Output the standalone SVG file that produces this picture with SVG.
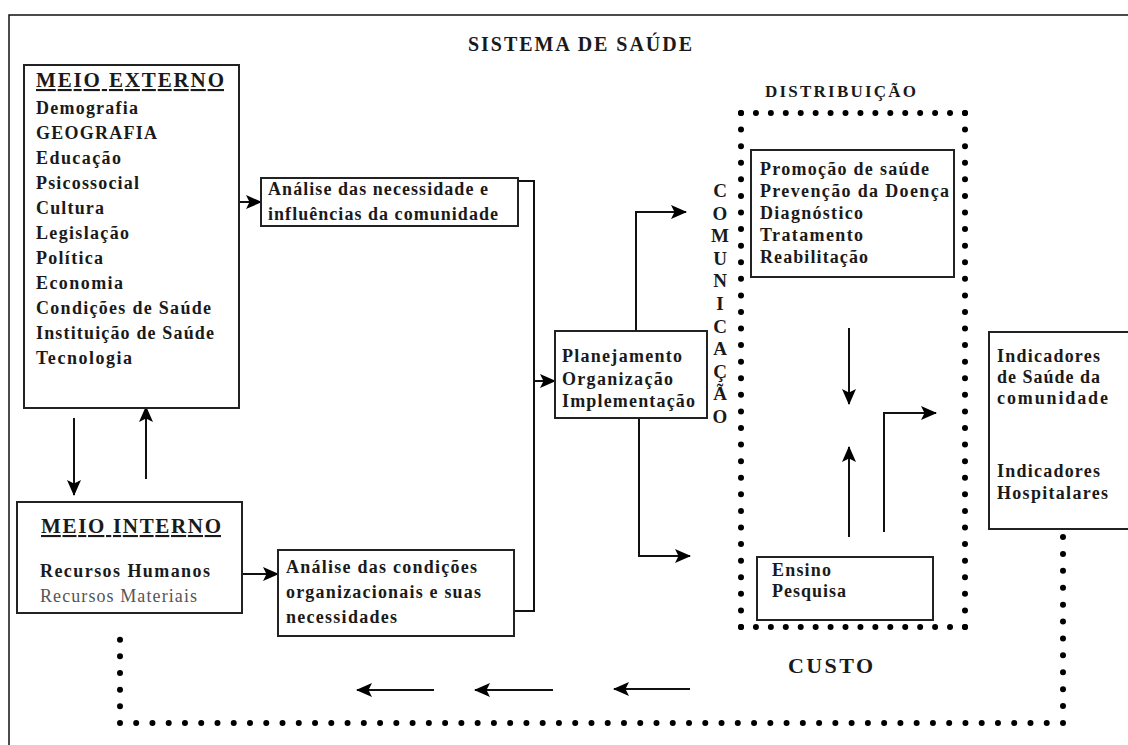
<svg xmlns="http://www.w3.org/2000/svg" width="1128" height="745" viewBox="0 0 1128 745">
<defs>
<marker id="ah" markerUnits="userSpaceOnUse" markerWidth="16" markerHeight="16" viewBox="0 0 16 16" refX="15" refY="8" orient="auto">
<path d="M0,1 L16,8 L0,15 L3.5,8 z" fill="#000"/>
</marker>
</defs>
<style>
.frame{fill:none;stroke:#111;stroke-width:1.5}
.box{fill:#fff;stroke:#222;stroke-width:2}
.con{fill:none;stroke:#111;stroke-width:2}
.arr{fill:none;stroke:#111;stroke-width:2;marker-end:url(#ah)}
.dot{fill:none;stroke:#000;stroke-width:6;stroke-linecap:round}
text{font-family:"Liberation Serif","Times New Roman",serif;font-weight:bold;fill:#1a1a1a;font-size:18px}
.ttl{font-size:21px;text-decoration:underline}
.big{font-size:20px}
.reg{font-weight:normal;fill:#555}
.vert{text-anchor:middle;font-size:19px}
</style>
<rect class="frame" x="9" y="15" width="1140" height="760"/>
<text id="title" class="big" x="468" y="51" textLength="224" lengthAdjust="spacing">SISTEMA DE SAÚDE</text>

<g id="connectors">
<line class="arr" x1="239" y1="202" x2="261" y2="202"/>
<polyline class="con" points="518,181 534,181 534,611 514,611"/>
<line class="arr" x1="534" y1="381" x2="555" y2="381"/>
<polyline class="arr" points="636,331 636,212 686,212"/>
<polyline class="arr" points="639,418 639,556 690,556"/>
<line class="arr" x1="74" y1="418" x2="74" y2="495"/>
<line class="arr" x1="146" y1="479" x2="146" y2="407"/>
<line class="arr" x1="242" y1="574" x2="278" y2="574"/>
<line class="arr" x1="849" y1="328" x2="849" y2="404"/>
<line class="arr" x1="849" y1="537" x2="849" y2="447"/>
<polyline class="arr" points="884,532 884,413 936,413"/>
<line class="arr" x1="434" y1="690" x2="357" y2="690"/>
<line class="arr" x1="553" y1="690" x2="475" y2="690"/>
<line class="arr" x1="690" y1="689" x2="614" y2="689"/>
<path class="dot" d="M1063,537 L1063,723" stroke-dasharray="0 16.91"/>
<path class="dot" d="M1063,723 L120,723" stroke-dasharray="0 16.26"/>
<path class="dot" d="M120,723 L120,623" stroke-dasharray="0 16.67"/>
</g>

<g id="distribuicao">
<text x="765" y="97" textLength="151" lengthAdjust="spacing" style="font-size:17px">DISTRIBUIÇÃO</text>
<path class="dot" d="M741,113 L965,113 M741,627 L965,627" stroke-dasharray="0 14.93"/>
<path class="dot" d="M741,113 L741,627 M965,113 L965,627" stroke-dasharray="0 16.58"/>
</g>

<g id="meio-externo">
<rect class="box" x="24" y="65" width="215" height="343"/>
<text class="ttl" x="36" y="87" textLength="188" lengthAdjust="spacing">MEIO EXTERNO</text>
<text x="36" y="114" textLength="102" lengthAdjust="spacing">Demografia</text>
<text x="36" y="139" textLength="121" lengthAdjust="spacing">GEOGRAFIA</text>
<text x="36" y="164" textLength="85" lengthAdjust="spacing">Educação</text>
<text x="36" y="189" textLength="103" lengthAdjust="spacing">Psicossocial</text>
<text x="36" y="214" textLength="68" lengthAdjust="spacing">Cultura</text>
<text x="36" y="239" textLength="93" lengthAdjust="spacing">Legislação</text>
<text x="36" y="264" textLength="67" lengthAdjust="spacing">Política</text>
<text x="36" y="289" textLength="87" lengthAdjust="spacing">Economia</text>
<text x="36" y="314" textLength="175" lengthAdjust="spacing">Condições de Saúde</text>
<text x="36" y="339" textLength="178" lengthAdjust="spacing">Instituição de Saúde</text>
<text x="36" y="364" textLength="96" lengthAdjust="spacing">Tecnologia</text>
</g>

<g id="meio-interno">
<rect class="box" x="17" y="502" width="225" height="111"/>
<text class="ttl" x="41" y="533" textLength="180" lengthAdjust="spacing">MEIO INTERNO</text>
<text x="40" y="577" textLength="170" lengthAdjust="spacing">Recursos Humanos</text>
<text class="reg" x="40" y="602" textLength="157" lengthAdjust="spacing">Recursos Materiais</text>
</g>

<g id="analise-necessidades">
<rect class="box" x="261" y="178" width="257" height="48"/>
<text x="268" y="195" textLength="220" lengthAdjust="spacing">Análise das necessidade e</text>
<text x="268" y="220" textLength="230" lengthAdjust="spacing">influências da comunidade</text>
</g>

<g id="analise-condicoes">
<rect class="box" x="278" y="550" width="236" height="86"/>
<text x="286" y="573" textLength="191" lengthAdjust="spacing">Análise das condições</text>
<text x="286" y="598" textLength="195" lengthAdjust="spacing">organizacionais e suas</text>
<text x="286" y="623" textLength="111" lengthAdjust="spacing">necessidades</text>
</g>

<g id="planejamento">
<rect class="box" x="555" y="331" width="152" height="87"/>
<text x="562" y="362" textLength="120" lengthAdjust="spacing">Planejamento</text>
<text x="562" y="385" textLength="111" lengthAdjust="spacing">Organização</text>
<text x="562" y="407" textLength="133" lengthAdjust="spacing">Implementação</text>
</g>

<g id="comunicacao">
<text class="vert" x="720" y="197">C</text>
<text class="vert" x="720" y="219.6">O</text>
<text class="vert" x="720" y="242.2">M</text>
<text class="vert" x="720" y="264.8">U</text>
<text class="vert" x="720" y="287.4">N</text>
<text class="vert" x="720" y="310">I</text>
<text class="vert" x="720" y="332.6">C</text>
<text class="vert" x="720" y="355.2">A</text>
<text class="vert" x="720" y="377.8">Ç</text>
<text class="vert" x="720" y="400.4">Ã</text>
<text class="vert" x="720" y="423">O</text>
</g>

<g id="servicos">
<rect class="box" x="751" y="150" width="203" height="127"/>
<text x="760" y="175" textLength="169" lengthAdjust="spacing">Promoção de saúde</text>
<text x="760" y="197" textLength="189" lengthAdjust="spacing">Prevenção da Doença</text>
<text x="760" y="219" textLength="103" lengthAdjust="spacing">Diagnóstico</text>
<text x="760" y="241" textLength="103" lengthAdjust="spacing">Tratamento</text>
<text x="760" y="263" textLength="108" lengthAdjust="spacing">Reabilitação</text>
</g>

<g id="ensino">
<rect class="box" x="757" y="557" width="176" height="63"/>
<text x="772" y="576" textLength="59" lengthAdjust="spacing">Ensino</text>
<text x="772" y="597" textLength="74" lengthAdjust="spacing">Pesquisa</text>
</g>

<g id="indicadores">
<rect class="box" x="989" y="332" width="150" height="197"/>
<text x="997" y="362" textLength="103" lengthAdjust="spacing">Indicadores</text>
<text x="997" y="383" textLength="103" lengthAdjust="spacing">de Saúde da</text>
<text x="997" y="404" textLength="111" lengthAdjust="spacing">comunidade</text>
<text x="997" y="477" textLength="103" lengthAdjust="spacing">Indicadores</text>
<text x="997" y="499" textLength="111" lengthAdjust="spacing">Hospitalares</text>
</g>

<text id="custo" x="788" y="673" textLength="85" lengthAdjust="spacing" style="font-size:22px">CUSTO</text>
</svg>
